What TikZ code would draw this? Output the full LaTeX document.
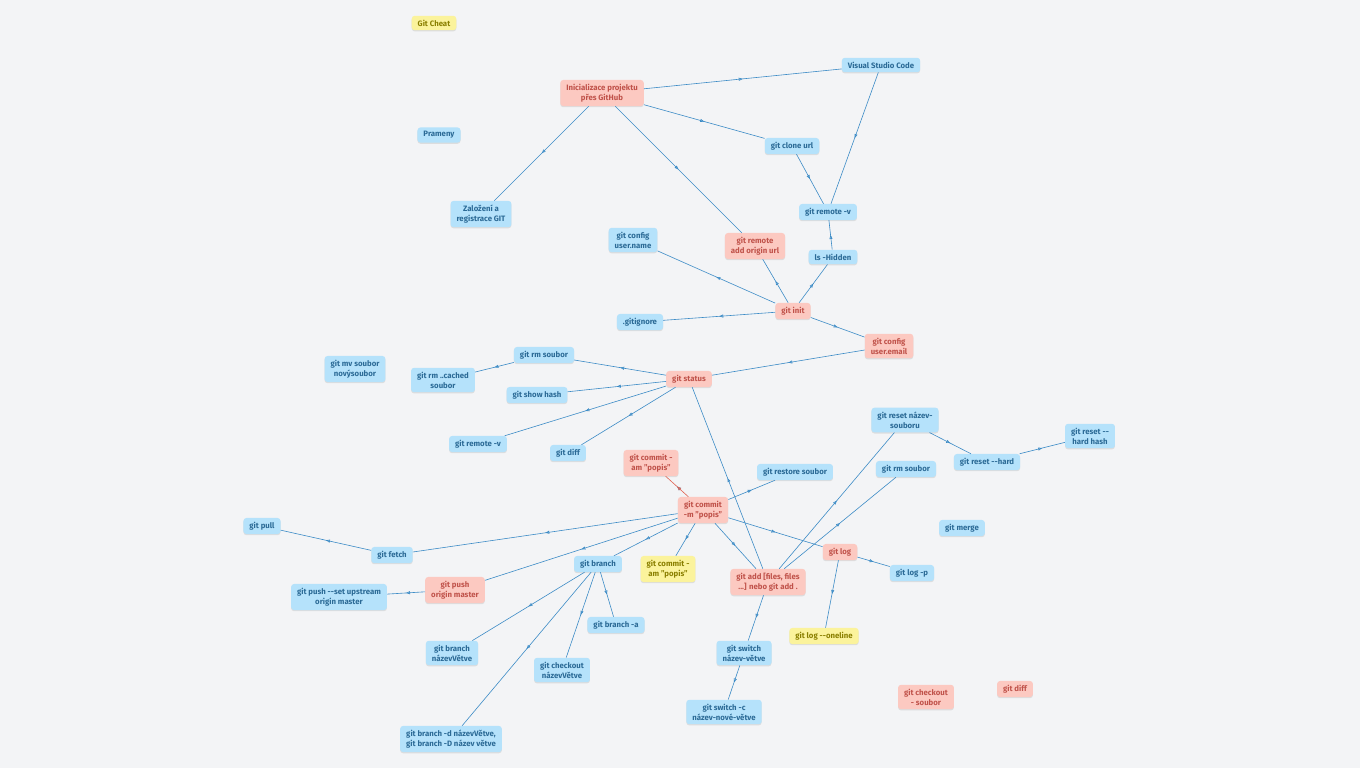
\documentclass[tikz,border=0pt]{standalone}
\usepackage{fontspec}
\setmainfont{Fira Sans}
\usetikzlibrary{decorations.markings,arrows.meta,shadows}
\definecolor{bg}{HTML}{F3F4F6}
\definecolor{bfill}{HTML}{B5E2FB}
\definecolor{btext}{HTML}{2B6A96}
\definecolor{rfill}{HTML}{FCC9C1}
\definecolor{rtext}{HTML}{C0524A}
\definecolor{yfill}{HTML}{FBF39C}
\definecolor{ytext}{HTML}{8A7F00}
\definecolor{ln}{HTML}{3B8BC6}
\definecolor{lnr}{HTML}{E0604E}
\tikzset{
 base/.style={rounded corners=3pt,inner xsep=6pt,inner ysep=4pt,align=center,font=\fontsize{7.8}{10}\selectfont\bfseries,drop shadow={shadow xshift=0pt,shadow yshift=-1.2pt,opacity=0.25,fill=black!40}},
 bl/.style={base,fill=bfill,text=btext},
 rd/.style={base,fill=rfill,text=rtext},
 yl/.style={base,fill=yfill,text=ytext},
 conn/.style={draw=ln,line width=0.6pt,postaction={decorate},decoration={markings,mark=at position 0.5 with {\arrow[ln]{Triangle[open,length=4pt,width=3pt]}}}},
 connr/.style={conn,draw=lnr,decoration={markings,mark=at position 0.5 with {\arrow[lnr]{Triangle[open,length=4pt,width=3pt]}}}}
}
\begin{document}
\begin{tikzpicture}[x=1pt,y=-1pt]
\fill[bg] (0,0) rectangle (1360,768);
\useasboundingbox (0,0) rectangle (1360,768);
\node[yl] (cheat) at (434,23) {Git Cheat};
\node[rd] (ini) at (602,93) {Inicializace projektu\\přes GitHub};
\node[bl] (vsc) at (881,65) {Visual Studio Code};
\node[bl] (pram) at (439,135) {Prameny};
\node[bl] (clone) at (792,146) {git clone url};
\node[bl] (zal) at (481,214) {Založení a\\registrace GIT};
\node[bl] (rv1) at (828,212) {git remote -v};
\node[bl] (uname) at (633,240) {git config\\user.name};
\node[rd] (radd) at (755,246) {git remote\\add origin url};
\node[bl] (ls) at (833,257) {ls -Hidden};
\node[rd] (init) at (793,311) {git init};
\node[bl] (gign) at (640,322) {.gitignore};
\node[rd] (umail) at (889,346) {git config\\user.email};
\node[bl] (mv) at (355,369) {git mv soubor\\novýsoubor};
\node[bl] (rm1) at (544,355) {git rm soubor};
\node[bl] (rmc) at (443,380) {git rm ..cached\\soubor};
\node[rd] (stat) at (689,379) {git status};
\node[bl] (show) at (537,395) {git show hash};
\node[bl] (rname) at (905,420) {git reset název-\\souboru};
\node[bl] (rhh) at (1090,436) {git reset -{}-\\hard hash};
\node[bl] (rv2) at (478,444) {git remote -v};
\node[bl] (diff1) at (568,453) {git diff};
\node[bl] (rhard) at (987,462) {git reset -{}-hard};
\node[rd] (cam1) at (651,463) {git commit -\\am "popis"};
\node[bl] (rest) at (795,472) {git restore soubor};
\node[bl] (rm2) at (906,469) {git rm soubor};
\node[rd] (cm) at (703,510) {git commit\\-m "popis"};
\node[bl] (pull) at (262,526) {git pull};
\node[bl] (merge) at (962,528) {git merge};
\node[bl] (fetch) at (392,555) {git fetch};
\node[rd] (log) at (840,552) {git log};
\node[bl] (br) at (598,564) {git branch};
\node[yl] (cam2) at (668,569) {git commit -\\am "popis"};
\node[rd] (add) at (768,582) {git add [files, files\\...] nebo git add .};
\node[bl] (logp) at (912,573) {git log -p};
\node[rd] (push) at (455,590) {git push\\origin master};
\node[bl] (pushs) at (339,597) {git push -{}-set upstream\\origin master};
\node[bl] (bra) at (616,625) {git branch -a};
\node[yl] (one) at (824,636) {git log -{}-oneline};
\node[bl] (brn) at (452,653) {git branch\\názevVětve};
\node[bl] (sw) at (744,653) {git switch\\název-větve};
\node[bl] (co) at (562,670) {git checkout\\názevVětve};
\node[rd] (cos) at (926,697) {git checkout\\- soubor};
\node[rd] (diff2) at (1015,689) {git diff};
\node[bl] (swc) at (724,712) {git switch -c\\název-nové-větve};
\node[bl] (brd) at (451,739) {git branch -d názevVětve,\\git branch -D název větve};
\path[conn] (ini) -- (vsc);
\path[conn] (ini) -- (clone);
\path[conn] (ini) -- (zal);
\path[conn] (ini) -- (radd);
\path[conn] (vsc) -- (rv1);
\path[conn] (clone) -- (rv1);
\path[conn] (ls) -- (rv1);
\path[conn] (init) -- (ls);
\path[conn] (init) -- (radd);
\path[conn] (init) -- (uname);
\path[conn] (init) -- (gign);
\path[conn] (init) -- (umail);
\path[conn] (umail) -- (stat);
\path[conn] (stat) -- (rm1);
\path[conn] (rm1) -- (rmc);
\path[conn] (stat) -- (show);
\path[conn] (stat) -- (rv2);
\path[conn] (stat) -- (diff1);
\path[conn] (add) -- (stat);
\path[connr] (cm) -- (cam1);
\path[conn] (cm) -- (rest);
\path[conn] (cm) -- (fetch);
\path[conn] (fetch) -- (pull);
\path[conn] (cm) -- (push);
\path[conn] (push) -- (pushs);
\path[conn] (cm) -- (br);
\path[conn] (br) -- (brn);
\path[conn] (br) -- (co);
\path[conn] (br) -- (brd);
\path[conn] (br) -- (bra);
\path[conn] (cm) -- (cam2);
\path[conn] (cm) -- (add);
\path[conn] (cm) -- (log);
\path[conn] (log) -- (logp);
\path[conn] (log) -- (one);
\path[conn] (add) -- (rname);
\path[conn] (add) -- (rm2);
\path[conn] (add) -- (sw);
\path[conn] (sw) -- (swc);
\path[conn] (rname) -- (rhard);
\path[conn] (rhard) -- (rhh);
\end{tikzpicture}
\end{document}
